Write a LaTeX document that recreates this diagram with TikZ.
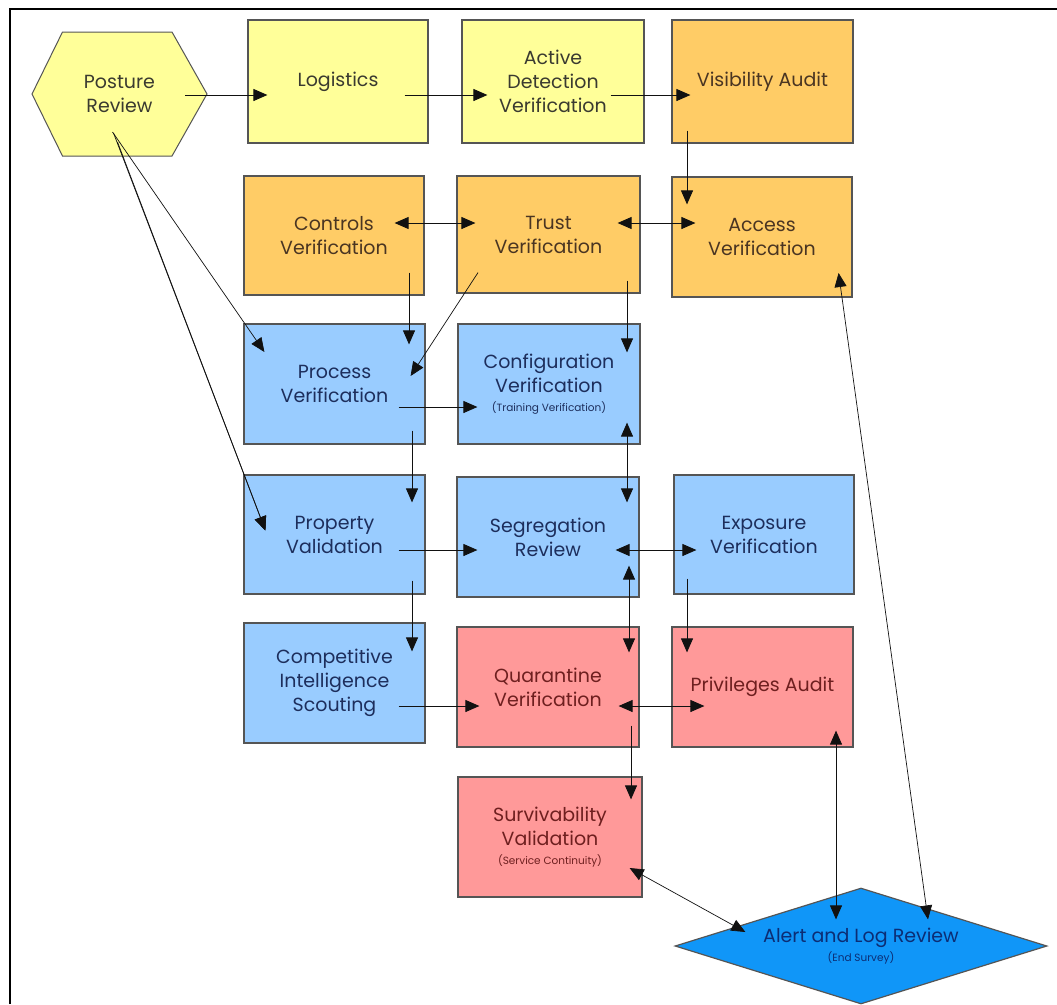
\documentclass[tikz,border=0pt]{standalone}
\usepackage{fontspec}
\setmainfont{Poppins}
\usetikzlibrary{arrows.meta,calc,shapes.geometric}
\definecolor{fyel}{HTML}{FFFF99}
\definecolor{forg}{HTML}{FFCC66}
\definecolor{fblu}{HTML}{99CCFF}
\definecolor{fred}{HTML}{FF9999}
\definecolor{falert}{HTML}{1096F8}
\definecolor{tyel}{HTML}{3A3A30}
\definecolor{torg}{HTML}{4A3522}
\definecolor{tblu}{HTML}{1D2E5C}
\definecolor{tred}{HTML}{6E1F1F}
\definecolor{talert}{HTML}{0C2D74}
\definecolor{boxline}{HTML}{555555}
\definecolor{lineblk}{HTML}{111111}
\newcommand\smallnote[1]{{\fontsize{10.5}{12}\selectfont #1}}
\begin{document}
\begin{tikzpicture}[x=1pt,y=-1pt,
  bx/.style={rectangle, draw=boxline, line width=1.2pt, inner sep=0pt, align=center, font=\fontsize{19}{24}\selectfont},
  yb/.style={bx, fill=fyel, text=tyel},
  ob/.style={bx, fill=forg, text=torg},
  bb/.style={bx, fill=fblu, text=tblu},
  rb/.style={bx, fill=fred, text=tred},
  sz/.style 2 args={minimum width=#1pt, minimum height=#2pt},
  Tri/.tip={Triangle[length=14pt,width=12pt]},
  conn/.style={draw=lineblk, line width=0.9pt, -Tri},
  dconn/.style={draw=lineblk, line width=0.9pt, Tri-Tri},
  thinl/.style={line width=0.7pt}
]
\useasboundingbox (0,0) rectangle (1057,1004);
\fill[white] (0,0) rectangle (1057,1004);
% frame
\draw[line width=1.6pt, draw=black] (10,1004) -- (10,9) -- (1057,9);

% hexagon
\draw[fill=fyel, draw=boxline, line width=1pt] (32,94) -- (62.5,32) -- (172,32) -- (207,94) -- (172,156) -- (62.5,156) -- cycle;
\node[align=center, inner sep=0pt, sz={175}{124}, text=tyel, font=\fontsize{19}{24}\selectfont] (post) at (119.5,94) {Posture\\Review};

% row 1
\node[yb, sz={180}{123}] (logi) at (338,81.5) {Logistics};
\node[yb, sz={182}{123}] (actv) at (553,81.5) {Active\\Detection\\Verification};
\node[ob, sz={181}{123}] (visi) at (762.5,81.5) {Visibility Audit};
% row 2
\node[ob, sz={180}{119}] (ctrl) at (334,235.5) {Controls\\Verification};
\node[ob, sz={183}{117}] (trust) at (548.5,234.5) {Trust\\Verification};
\node[ob, sz={180}{120}] (acc) at (762,237) {Access\\Verification};
% row 3
\node[bb, sz={181}{120}] (proc) at (334.5,384) {Process\\Verification};
\node[bb, sz={182}{120}] (conf) at (549,384) {Configuration\\Verification\\[-5pt]\smallnote{(Training Verification)}};
% row 4
\node[bb, sz={181}{119}] (prop) at (334.5,534.5) {Property\\Validation};
\node[bb, sz={182}{120}] (segr) at (548,537) {Segregation\\Review};
\node[bb, sz={180}{119}] (expo) at (764,534.5) {Exposure\\Verification};
% row 5
\node[bb, sz={181}{120}] (comp) at (334.5,683) {Competitive\\Intelligence\\Scouting};
\node[rb, sz={182}{120}] (quar) at (548,687) {Quarantine\\Verification};
\node[rb, sz={181}{120}] (priv) at (762.5,687) {Privileges Audit};
% row 6
\node[rb, sz={184}{120}] (surv) at (550,837) {Survivability\\Validation\\[-5pt]\smallnote{(Service Continuity)}};
\node[diamond, aspect=3.2, draw=boxline, line width=1.2pt, fill=falert, text=talert, inner sep=0pt, sz={372}{116}, align=center, font=\fontsize{19}{24}\selectfont] (alert) at (861,946) {Alert and Log Review\\[-5pt]\smallnote{(End Survey)}};

% connectors
\draw[conn] ($(post.east)+(-22,1)$) -- ($(logi.west)+(20,13.5)$);
\draw[conn] ($(logi.east)+(-24,13.5)$) -- ($(actv.west)+(26,13.5)$);
\draw[conn] ($(actv.east)+(-34,13.5)$) -- ($(visi.west)+(19,13.5)$);
\draw[conn] ($(visi.south)+(-75.5,-13)$) -- ($(acc.north)+(-75,28)$);
\draw[dconn] ($(ctrl.east)+(-30,-12.5)$) -- ($(trust.west)+(19,-11.5)$);
\draw[dconn] ($(trust.east)+(-23,-11.5)$) -- ($(acc.west)+(24,-14)$);
\draw[conn] ($(ctrl.south)+(75,-23)$) -- ($(proc.north)+(74.5,21)$);
\draw[conn, thinl] ($(trust.south)+(-70.5,-21)$) -- ($(proc.east)+(-15,-8)$);
\draw[conn, thinl] ($(post.center)+(-7,38)$) -- ($(proc.west)+(21,-32)$);
\draw[conn, thinl] ($(post.center)+(-6,39)$) -- ($(prop.west)+(22,-4)$);
\draw[conn, thinl] ($(post.center)+(-2,48)$) -- ($(prop.west)+(22,-4)$);
\draw[conn] ($(trust.south)+(78.5,-13)$) -- ($(conf.north)+(78,29)$);
\draw[conn] ($(proc.east)+(-27,23)$) -- ($(conf.west)+(20,23)$);
\draw[conn] ($(proc.south)+(77.5,-14)$) -- ($(prop.north)+(77.5,28)$);
\draw[dconn] ($(conf.south)+(78,-22)$) -- ($(segr.north)+(79,26)$);
\draw[conn] ($(prop.east)+(-27,15.5)$) -- ($(segr.west)+(21,13)$);
\draw[conn] ($(prop.south)+(77.5,-14)$) -- ($(comp.north)+(77.5,29)$);
\draw[dconn] ($(segr.east)+(-24,13)$) -- ($(expo.west)+(23,15.5)$);
\draw[dconn] ($(segr.south)+(81,-32)$) -- ($(quar.north)+(81,26)$);
\draw[conn] ($(expo.south)+(-77,-16)$) -- ($(priv.north)+(-75.5,26)$);
\draw[conn] ($(comp.east)+(-27,23)$) -- ($(quar.west)+(23,19)$);
\draw[dconn] ($(quar.east)+(-21,19)$) -- ($(priv.west)+(33,19)$);
\draw[conn] ($(quar.south)+(83,-22)$) -- ($(surv.north)+(81,23)$);
\draw[dconn] ($(priv.south)+(73.5,-17)$) -- ($(alert.north)+(-25,32)$);
\draw[dconn, thinl] ($(surv.east)+(-13,31)$) -- ($(alert.west)+(71,-14)$);
\draw[dconn, thinl] ($(acc.east)+(-14,36)$) -- ($(alert.north)+(67,32)$);
\end{tikzpicture}
\end{document}
